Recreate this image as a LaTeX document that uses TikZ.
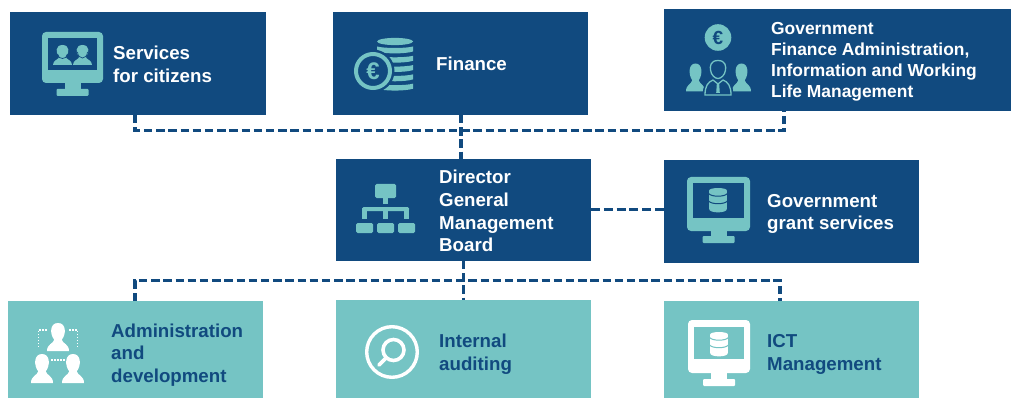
\documentclass[tikz,border=0pt]{standalone}
\usepackage{fontspec}
\setmainfont{Liberation Sans}
\definecolor{navy}{HTML}{114A7F}
\definecolor{teal2}{HTML}{75C4C4}
\newcommand\monitorpic[8]{% l t r b screenbottom basebottom fg bg
  \fill[#7,rounded corners=4pt] (#1,#2) rectangle (#3,#4);
  \fill[#8] ({#1+6},{#2+6.5}) rectangle ({#3-6},#5);
  \fill[#7] ({(#1+#3)/2-8},{#4-1}) rectangle ({(#1+#3)/2+8},{#6-6});
  \fill[#7,rounded corners=1pt] ({(#1+#3)/2-16},{#6-7}) rectangle ({(#1+#3)/2+16},#6);
}
\newcommand\dbpic[5]{% cx top w fg bg
  \fill[#4] ({#1-#3/2},{#2+2.5})
    .. controls ({#1-#3/2},{#2-.8}) and ({#1+#3/2},{#2-.8}) .. ({#1+#3/2},{#2+2.5})
    -- ({#1+#3/2},{#2+21})
    .. controls ({#1+#3/2},{#2+25.5}) and ({#1-#3/2},{#2+25.5}) .. ({#1-#3/2},{#2+21}) -- cycle;
  \foreach \k in {5.5,13}{
    \draw[#5,line width=1pt] ({#1-#3/2-.5},{#2+\k})
      .. controls ({#1-#3/2+2},{#2+\k+3.6}) and ({#1+#3/2-2},{#2+\k+3.6}) .. ({#1+#3/2+.5},{#2+\k});
  }
}
\newcommand\bustpic[5]{% cx bottom w h style
  \path[#5] ({#1-#3/2},#2) .. controls ({#1-#3/2},{#2-#4*.25}) and ({#1-#3*.22},{#2-#4*.26}) .. ({#1-#3*.17},{#2-#4*.40})
    .. controls ({#1-#3*.38},{#2-#4*.60}) and ({#1-#3*.38},{#2-#4}) .. (#1,{#2-#4})
    .. controls ({#1+#3*.38},{#2-#4}) and ({#1+#3*.38},{#2-#4*.60}) .. ({#1+#3*.17},{#2-#4*.40})
    .. controls ({#1+#3*.22},{#2-#4*.26}) and ({#1+#3/2},{#2-#4*.25}) .. ({#1+#3/2},#2) -- cycle;
}
\tikzset{
  navybox/.style={fill=navy,draw=none,inner sep=0pt},
  tealbox/.style={fill=teal2,draw=none,inner sep=0pt},
  whitelabel/.style={text=white,font=\bfseries\fontsize{18.7}{22.7}\selectfont,align=left,anchor=west,inner sep=0pt},
  navylabel/.style={text=navy,font=\bfseries\fontsize{18.7}{22.7}\selectfont,align=left,anchor=west,inner sep=0pt},
  smalllabel/.style={whitelabel,font=\bfseries\fontsize{17.4}{21}\selectfont},
  link/.style={draw=navy,line width=3.1pt,dash pattern=on 8.4pt off 3.8pt},
  glyph/.style={font=\bfseries\fontsize{24}{24}\selectfont,inner sep=0pt}
}
\begin{document}
\begin{tikzpicture}[x=1pt,y=-1pt]
\useasboundingbox (0,0) rectangle (1011,398);
\coordinate (citzS) at (135,115);
\coordinate (finS) at (461,115);
\coordinate (govS) at (784,111);
\coordinate (dirN) at (461,159);
\coordinate (dirS) at (463.5,261);
\coordinate (dirE) at (591,209.5);
\coordinate (grantW) at (664,209.5);
\coordinate (admN) at (135,301);
\coordinate (audN) at (463.5,300);
\coordinate (ictN) at (780,301);
\coordinate (busA) at (135,130.5);
\coordinate (busB) at (784,130.5);
\coordinate (busC) at (135,280.5);
\coordinate (busD) at (780,280.5);
% boxes
\path[navybox] (10,12) rectangle (266,115);
\path[navybox] (333,12) rectangle (588,115);
\path[navybox] (664,9) rectangle (1011,111);
\path[navybox] (336,159) rectangle (591,261);
\path[navybox] (664,160) rectangle (919,263);
\path[tealbox] (8,301) rectangle (263,398);
\path[tealbox] (336,300) rectangle (591,398);
\path[tealbox] (664,301) rectangle (919,398);
% connectors
\draw[link] (citzS) -- (busA) -- (busB) -- (govS);
\draw[link] (finS) -- (dirN);
\draw[link,dash pattern=on 9pt off 3.8pt] (dirE) -- (grantW);
\draw[link] (dirS) -- (audN);
\draw[link] (admN) -- (busC) -- (busD) -- (ictN);
% labels
\node[whitelabel] (t1) at (113,64) {Services\\for citizens};
\node[whitelabel] (t2) at (436,64) {Finance};
\node[smalllabel] (t3) at (771,62) {Government\\Finance Administration,\\Information and Working\\Life Management};
\node[whitelabel] (t4) at (439,211) {Director\\General\\Management\\Board};
\node[whitelabel] (t5) at (767,214) {Government\\grant services};
\node[navylabel] (t6) at (111,355) {Administration\\and\\development};
\node[navylabel] (t7) at (439,354.5) {Internal\\auditing};
\node[navylabel] (t8) at (767,354.5) {ICT\\Management};
% monitors
\monitorpic{42}{32}{103}{83}{70}{96}{teal2}{navy}
\bustpic{62.5}{65}{19}{20}{fill=teal2}
\bustpic{82.5}{65}{19}{20}{fill=teal2}
\draw[navy,line width=.7pt] (57.5,54) .. controls (58,60) and (67,60) .. (67.5,54);
\draw[navy,line width=.7pt] (77.5,52) .. controls (78,60) and (87,60) .. (87.5,52);
\monitorpic{687}{177}{750}{231}{218}{243}{teal2}{navy}
\dbpic{718}{188}{17.7}{teal2}{navy}
\monitorpic{688}{320}{750}{373}{359}{386}{white}{teal2}
\dbpic{719}{332}{17.7}{white}{teal2}
% coins
\fill[teal2] (395,41.5) ellipse[x radius=18,y radius=3.6];
\foreach \k in {0,1,2,3,4}{
  \fill[teal2] (377,{46.5+\k*9.3}) -- (377,{51.5+\k*9.3}) .. controls (385,{54+\k*9.3}) and (405,{54+\k*9.3}) .. (413,{51.5+\k*9.3}) -- (413,{46.5+\k*9.3}) .. controls (405,{48.5+\k*9.3}) and (385,{48.5+\k*9.3}) .. (377,{46.5+\k*9.3});
}
\fill[navy] (373,71) circle[radius=21.5];
\draw[teal2,line width=4pt] (373,71) circle[radius=17];
\node[glyph,text=teal2] (eur1) at (373,71) {€};
% government icon
\fill[teal2] (718,37.5) circle[radius=13.3];
\node[glyph,text=navy,font=\bfseries\fontsize{19}{19}\selectfont] (eur2) at (718,37.5) {€};
\bustpic{695.5}{91.5}{19}{28}{fill=teal2}
\bustpic{741.5}{91.5}{19}{28}{fill=teal2}
\draw[teal2,line width=1.3pt,fill=navy,preaction={draw=navy,line width=4.5pt}] (705,95) .. controls (705,86) and (708,82) .. (713,80) -- (718,84) -- (723,80) .. controls (728,82) and (731,86) .. (731,95) -- cycle;
\draw[teal2,line width=1.3pt,fill=navy,preaction={draw=navy,line width=4.5pt}] (718,60.5) .. controls (710,60.5) and (710,67) .. (710.5,70) .. controls (711,75) and (715,78.5) .. (718,78.5) .. controls (721,78.5) and (725,75) .. (725.5,70) .. controls (726,67) and (726,60.5) .. (718,60.5);
\fill[teal2] (716.8,84) -- (719.2,84) -- (719.8,93) -- (716.2,93) -- cycle;
% org chart icon
\fill[teal2,rounded corners=1.5pt] (375,184) rectangle (396,198);
\fill[teal2] (382.5,198) rectangle (388,204);
\fill[teal2,rounded corners=1.5pt] (362,207) rectangle (409,211);
\fill[teal2] (362,208) rectangle (367,219);
\fill[teal2] (404,208) rectangle (409,219);
\fill[teal2] (383,208) rectangle (388,219);
\foreach \a in {356,377,398}{
  \fill[teal2,rounded corners=1.5pt] (\a,223) rectangle ({\a+17},233);
}
% admin icon
\bustpic{58}{351}{22}{28}{fill=white}
\bustpic{42}{383}{22}{29}{fill=white}
\bustpic{73}{383}{22}{29}{fill=white}
\draw[white,line width=1.6pt,dash pattern=on 1.6pt off 1.4pt] (47,330) -- (38.5,330) -- (38.5,348);
\draw[white,line width=1.6pt,dash pattern=on 1.6pt off 1.4pt] (69,330) -- (77.5,330) -- (77.5,348);
\draw[white,line width=1.6pt,dash pattern=on 1.6pt off 1.4pt] (51,360) -- (65,360);
% magnifier icon
\draw[white,line width=3.4pt] (392,352) circle[radius=25.3];
\draw[white,line width=3.6pt] (393.5,350) circle[radius=10.5];
\draw[white,line width=3.8pt,line cap=round] (379,365) -- (386,358);
\end{tikzpicture}
\end{document}
